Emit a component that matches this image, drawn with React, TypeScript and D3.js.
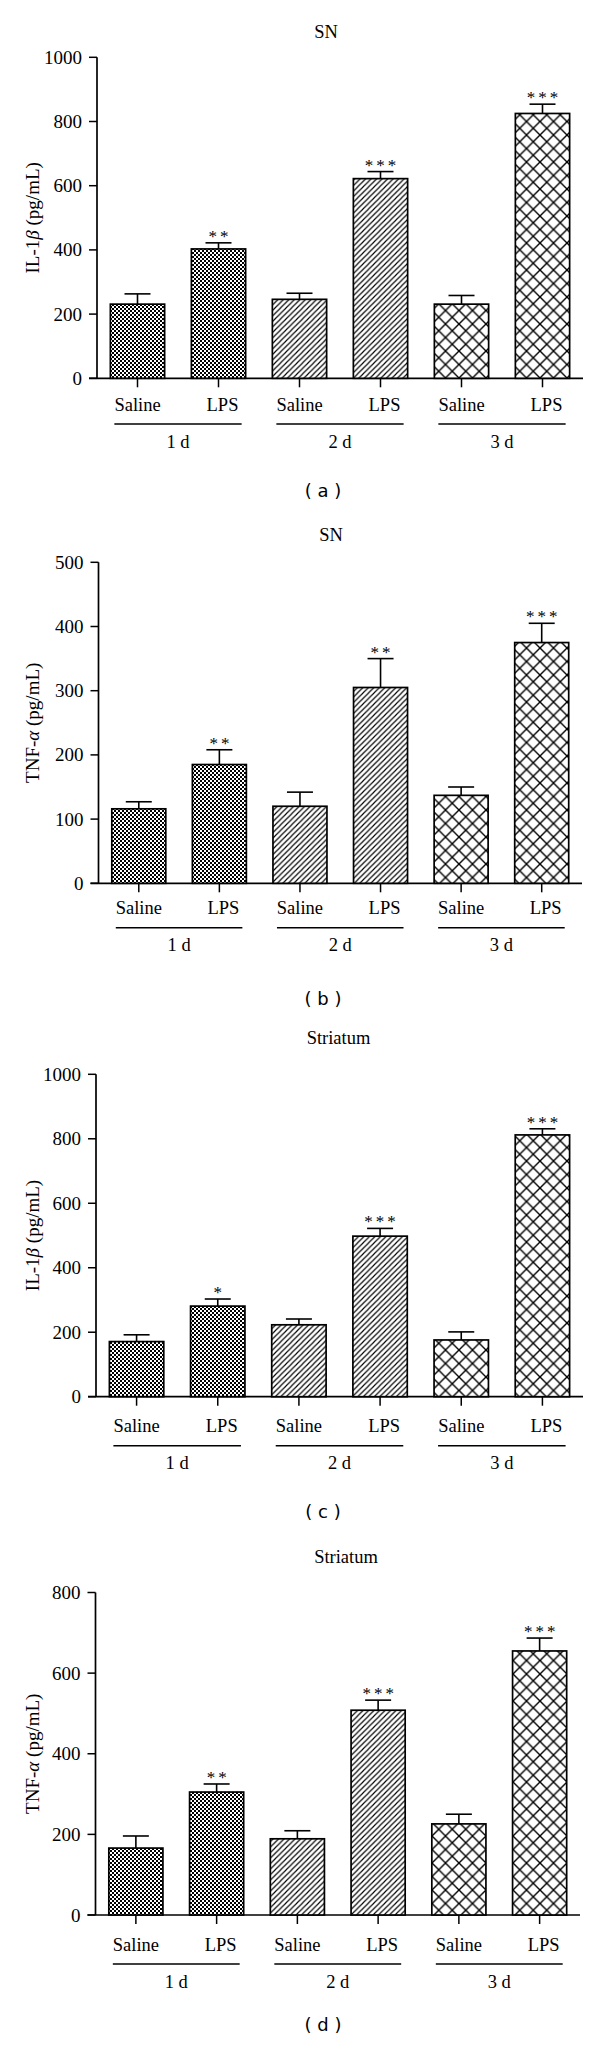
import React, { useRef, useEffect } from "react";
import * as d3 from "d3";

// categories
const groups = ["Saline", "LPS", "Saline", "LPS", "Saline", "LPS"];
const days = ["1 d", "2 d", "3 d"];

// (a) IL-1β, SN
const ilSnMean = [231, 403, 246, 622, 231, 825];
const ilSnErr = [32, 19, 19, 22, 27, 29];
const ilSnStars = ["", "**", "", "***", "", "***"];

// (b) TNF-α, SN
const tnfSnMean = [116, 185, 120, 305, 137, 375];
const tnfSnErr = [11, 23, 22, 45, 13, 30];
const tnfSnStars = ["", "**", "", "**", "", "***"];

// (c) IL-1β, Striatum
const ilStMean = [171, 281, 223, 498, 176, 812];
const ilStErr = [21, 22, 18, 24, 25, 19];
const ilStStars = ["", "*", "", "***", "", "***"];

// (d) TNF-α, Striatum
const tnfStMean = [166, 305, 189, 508, 226, 655];
const tnfStErr = [30, 20, 20, 25, 24, 32];
const tnfStStars = ["", "**", "", "***", "", "***"];

const ilTicks = [0, 200, 400, 600, 800, 1000];
const tnfSnTicks = [0, 100, 200, 300, 400, 500];
const tnfStTicks = [0, 200, 400, 600, 800];

const panels = [
  { title: "SN", cyto: "IL-1", greek: "β", letter: "a", mean: ilSnMean, err: ilSnErr, stars: ilSnStars, ticks: ilTicks },
  { title: "SN", cyto: "TNF-", greek: "α", letter: "b", mean: tnfSnMean, err: tnfSnErr, stars: tnfSnStars, ticks: tnfSnTicks },
  { title: "Striatum", cyto: "IL-1", greek: "β", letter: "c", mean: ilStMean, err: ilStErr, stars: ilStStars, ticks: ilTicks },
  { title: "Striatum", cyto: "TNF-", greek: "α", letter: "d", mean: tnfStMean, err: tnfStErr, stars: tnfStStars, ticks: tnfStTicks },
];

// where each panel sits on the page
const layout = [
  { x0: 97, x1: 583, top: 57.3, bottom: 378.3, titleX: 326, titleY: 31.7, catY: 405, lineY: 424, dayY: 441.7, letterY: 490 },
  { x0: 98.5, x1: 582, top: 562.3, bottom: 883.3, titleX: 331, titleY: 535, catY: 908.3, lineY: 927.7, dayY: 945, letterY: 998 },
  { x0: 96, x1: 583, top: 1074.3, bottom: 1396.7, titleX: 338.5, titleY: 1038.3, catY: 1426, lineY: 1445.7, dayY: 1463.3, letterY: 1511.7 },
  { x0: 95.5, x1: 580, top: 1592.5, bottom: 1915, titleX: 346, titleY: 1556.7, catY: 1945, lineY: 1964, dayY: 1981.7, letterY: 2024 },
];

const fills = ["url(#checker)", "url(#hatch)", "url(#cross)"];
const SERIF = "'Liberation Serif', 'Times New Roman', serif";

const App = () => {
  const svgRef = useRef(null);

  useEffect(() => {
    const svg = d3.select(svgRef.current);
    svg.selectAll("*").remove();

    // fill patterns
    const defs = svg.append("defs");
    const checker = defs
      .append("pattern")
      .attr("id", "checker")
      .attr("patternUnits", "userSpaceOnUse")
      .attr("width", 4)
      .attr("height", 4);
    checker.append("rect").attr("width", 4).attr("height", 4).attr("fill", "#fff");
    checker.append("rect").attr("width", 2).attr("height", 2).attr("fill", "#000");
    checker.append("rect").attr("x", 2).attr("y", 2).attr("width", 2).attr("height", 2).attr("fill", "#000");

    const hs = 5.5;
    const hatch = defs
      .append("pattern")
      .attr("id", "hatch")
      .attr("patternUnits", "userSpaceOnUse")
      .attr("width", hs)
      .attr("height", hs);
    hatch.append("rect").attr("width", hs).attr("height", hs).attr("fill", "#fff");
    hatch
      .append("path")
      .attr("d", `M-1,1 L1,-1 M0,${hs} L${hs},0 M${hs - 1},${hs + 1} L${hs + 1},${hs - 1}`)
      .attr("stroke", "#000")
      .attr("stroke-width", 1.15);

    const cs = 13.5;
    const cross = defs
      .append("pattern")
      .attr("id", "cross")
      .attr("patternUnits", "userSpaceOnUse")
      .attr("width", cs)
      .attr("height", cs);
    cross.append("rect").attr("width", cs).attr("height", cs).attr("fill", "#fff");
    cross
      .append("path")
      .attr("d", `M0,0 L${cs},${cs} M0,${cs} L${cs},0`)
      .attr("stroke", "#000")
      .attr("stroke-width", 1.4);

    panels.forEach((p, pi) => {
      const L = layout[pi];
      const g = svg.append("g");
      const idx = d3.range(groups.length);

      const x = d3
        .scaleBand()
        .domain(idx)
        .range([L.x0, L.x1])
        .paddingInner(0.33)
        .paddingOuter(0.165);
      const y = d3
        .scaleLinear()
        .domain([0, d3.max(p.ticks)])
        .range([L.bottom, L.top]);
      const bw = x.bandwidth();

      // title
      g.append("text")
        .attr("x", L.titleX)
        .attr("y", L.titleY)
        .attr("text-anchor", "middle")
        .attr("dominant-baseline", "central")
        .attr("font-family", SERIF)
        .attr("font-size", 18.5)
        .text(p.title);

      // y axis
      g.append("line")
        .attr("x1", L.x0)
        .attr("x2", L.x0)
        .attr("y1", y(d3.max(p.ticks)))
        .attr("y2", y(0))
        .attr("stroke", "#000")
        .attr("stroke-width", 1.7);
      p.ticks.forEach((t) => {
        g.append("line")
          .attr("x1", L.x0 - 8)
          .attr("x2", L.x0)
          .attr("y1", y(t))
          .attr("y2", y(t))
          .attr("stroke", "#000")
          .attr("stroke-width", 1.5);
        g.append("text")
          .attr("x", L.x0 - 15)
          .attr("y", y(t))
          .attr("text-anchor", "end")
          .attr("dominant-baseline", "central")
          .attr("font-family", SERIF)
          .attr("font-size", 19)
          .text(t);
      });

      // y label
      const cy = (L.top + L.bottom) / 2;
      const yl = g
        .append("text")
        .attr("transform", `translate(32,${cy}) rotate(-90)`)
        .attr("text-anchor", "middle")
        .attr("dominant-baseline", "central")
        .attr("font-family", SERIF)
        .attr("font-size", 19);
      yl.append("tspan").text(p.cyto);
      yl.append("tspan").attr("font-style", "italic").text(p.greek);
      yl.append("tspan").text(" (pg/mL)");

      // x axis
      g.append("line")
        .attr("x1", L.x0 - 8)
        .attr("x2", L.x1)
        .attr("y1", y(0))
        .attr("y2", y(0))
        .attr("stroke", "#000")
        .attr("stroke-width", 1.7);

      // bars
      idx.forEach((i) => {
        const cx = x(i) + bw / 2;
        const top = y(p.mean[i]);
        const et = y(p.mean[i] + p.err[i]);

        g.append("line")
          .attr("x1", cx)
          .attr("x2", cx)
          .attr("y1", top)
          .attr("y2", et)
          .attr("stroke", "#000")
          .attr("stroke-width", 1.6);
        g.append("line")
          .attr("x1", cx - 13)
          .attr("x2", cx + 13)
          .attr("y1", et)
          .attr("y2", et)
          .attr("stroke", "#000")
          .attr("stroke-width", 1.6);

        g.append("rect")
          .attr("x", x(i))
          .attr("y", top)
          .attr("width", bw)
          .attr("height", y(0) - top)
          .attr("fill", fills[Math.floor(i / 2)])
          .attr("stroke", "#000")
          .attr("stroke-width", 1.7);

        if (p.stars[i]) {
          g.append("text")
            .attr("x", cx + 1.5)
            .attr("y", et - 1)
            .attr("text-anchor", "middle")
            .attr("font-family", SERIF)
            .attr("font-size", 17)
            .attr("letter-spacing", 3)
            .text(p.stars[i]);
        }

        // tick under bar
        g.append("line")
          .attr("x1", cx)
          .attr("x2", cx)
          .attr("y1", y(0))
          .attr("y2", y(0) + 9)
          .attr("stroke", "#000")
          .attr("stroke-width", 1.5);

        g.append("text")
          .attr("x", cx + (groups[i] === "LPS" ? 4 : 0))
          .attr("y", L.catY)
          .attr("text-anchor", "middle")
          .attr("dominant-baseline", "central")
          .attr("font-family", SERIF)
          .attr("font-size", 18.5)
          .text(groups[i]);
      });

      // day brackets
      days.forEach((d, di) => {
        const a = x(di * 2) + 4;
        const b = x(di * 2 + 1) + bw - 4;
        g.append("line")
          .attr("x1", a)
          .attr("x2", b)
          .attr("y1", L.lineY)
          .attr("y2", L.lineY)
          .attr("stroke", "#000")
          .attr("stroke-width", 1.5);
        g.append("text")
          .attr("x", (a + b) / 2)
          .attr("y", L.dayY)
          .attr("text-anchor", "middle")
          .attr("dominant-baseline", "central")
          .attr("font-family", SERIF)
          .attr("font-size", 18.5)
          .text(d);
      });

      // panel letter
      g.append("text")
        .attr("x", 323)
        .attr("y", L.letterY)
        .attr("text-anchor", "middle")
        .attr("dominant-baseline", "central")
        .attr("font-family", "'DejaVu Sans', sans-serif")
        .attr("font-size", 18)
        .text(`( ${p.letter} )`);
    });
  }, []);

  return (
    <svg
      ref={svgRef}
      width={600}
      height={2045}
      style={{ position: "absolute", left: 0, top: 0, background: "#fff" }}
    ></svg>
  );
};

export default App;
